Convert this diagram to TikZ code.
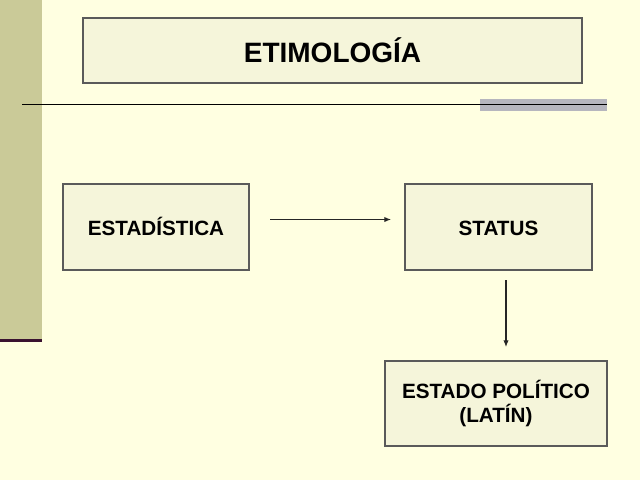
\documentclass[tikz,border=0pt]{standalone}
\usepackage{fontspec}
\setmainfont{Liberation Sans}
\usetikzlibrary{arrows.meta}

\definecolor{slidebg}{HTML}{FFFFE1}
\definecolor{sidebar}{HTML}{CACA98}
\definecolor{boxfill}{HTML}{F5F5DA}
\definecolor{boxline}{HTML}{5A5A5A}
\definecolor{greybar}{HTML}{B6B6BE}
\definecolor{darkrule}{HTML}{3A1230}

\tikzset{
  wordbox/.style={draw=boxline, fill=boxfill, line width=0.8pt, inner sep=0pt,
    align=center, font=\fontsize{15.5}{18}\selectfont\bfseries},
  oneline/.style={text height=13.4pt, text depth=0pt},
  arr/.style={line width=0.8pt, draw=black!85, -{Latex[length=5pt,width=4pt]}}
}

\begin{document}
\begin{tikzpicture}[x=0.75pt, y=-0.75pt]
    \useasboundingbox (0,0) rectangle (640,480);
    \fill[slidebg] (0,0) rectangle (640,480);
    \fill[sidebar] (0,0) rectangle (42,340);
    \fill[darkrule] (0,339) rectangle (42,342);
    \fill[greybar] (480,99) rectangle (607,111);
    \draw[line width=1.1pt] (22,104.5) -- (607,104.5);

    \node[wordbox, minimum width=374.25pt, minimum height=48.75pt, text height=18pt, text depth=0pt,
      font=\fontsize{21}{24}\selectfont\bfseries] (titulo) at (332.5,50.5) {ETIMOLOGÍA};
    \node[wordbox, oneline, minimum width=139.5pt, minimum height=64.5pt] (estadistica) at (156,227) {ESTADÍSTICA};
    \node[wordbox, oneline, minimum width=140.25pt, minimum height=64.5pt] (status) at (498.5,227) {STATUS};
    \node[wordbox, minimum width=166.5pt, minimum height=63.75pt] (estado) at (496,403.5) {ESTADO POLÍTICO\\(LATÍN)};

    \coordinate (h1) at (270,219.5);
    \coordinate (h2) at (391,219.5);
    \coordinate (v1) at (506,280);
    \coordinate (v2) at (506,347);
    \draw[arr] (h1) -- (h2);
    \draw[arr] (v1) -- (v2);
\end{tikzpicture}
\end{document}
